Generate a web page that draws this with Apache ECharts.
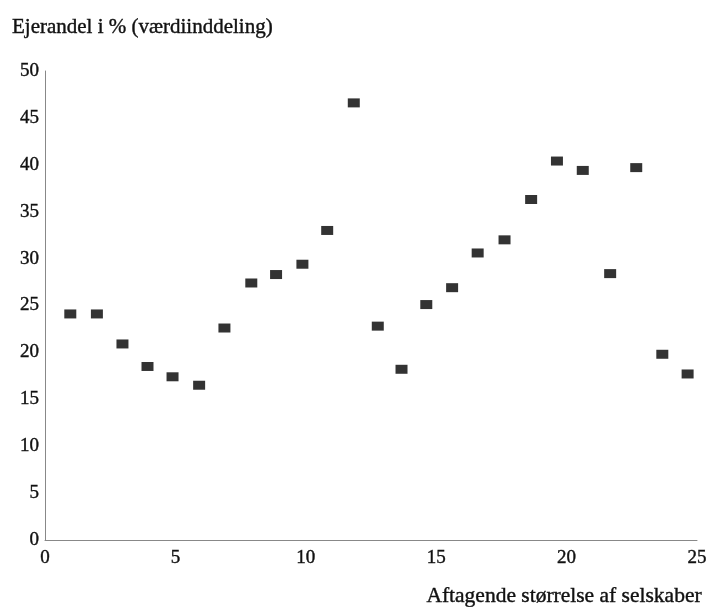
<!DOCTYPE html>
<html>
<head>
<meta charset="utf-8">
<script src="https://cdn.jsdelivr.net/npm/echarts@6/dist/echarts.min.js"></script>
<style>html,body{margin:0;padding:0;background:#fff}#c{width:710px;height:607px}</style>
</head>
<body>
<div id="c"></div>
<script>
// Data
const xValues = [0.97, 1.99, 2.97, 3.93, 4.89, 5.91, 6.88, 7.91, 8.86, 9.87, 10.82, 11.84, 12.76, 13.67, 14.62, 15.61, 16.59, 17.62, 18.64, 19.63, 20.62, 21.67, 22.67, 23.67, 24.64];
const yValues = [24.1, 24.1, 20.9, 18.5, 17.4, 16.5, 22.6, 27.4, 28.3, 29.4, 33.0, 46.6, 22.8, 18.2, 25.1, 26.9, 30.6, 32.0, 36.3, 40.4, 39.4, 28.4, 39.7, 19.8, 17.7];
const yTitle = 'Ejerandel i % (værdiinddeling)';
const xTitle = 'Aftagende størrelse af selskaber';

const font = "'Liberation Serif', 'DejaVu Serif', serif";
const txt = (size) => ({fontFamily: font, fontSize: size, fontWeight: 'normal', color: '#111',
  textBorderColor: '#111', textBorderWidth: 0.4});
const chart = echarts.init(document.getElementById('c'), null, {renderer: 'canvas'});
chart.setOption({
  animation: false,
  backgroundColor: '#fff',
  title: [
    {text: yTitle, left: 7, top: 12, textStyle: txt(21)},
    {text: xTitle, right: 3, top: 580, textStyle: txt(21.5)}
  ],
  grid: {left: 45, right: 13, top: 71, bottom: 67, containLabel: false},
  xAxis: {
    type: 'value', min: 0, max: 25, interval: 5,
    axisLine: {show: true, onZero: false, lineStyle: {color: '#888', width: 1}},
    axisTick: {show: false},
    splitLine: {show: false},
    axisLabel: Object.assign(txt(19), {margin: 9})
  },
  yAxis: {
    type: 'value', min: 0, max: 50, interval: 5,
    axisLine: {show: true, lineStyle: {color: '#888', width: 1}},
    axisTick: {show: false},
    splitLine: {show: false},
    axisLabel: Object.assign(txt(19), {margin: 6})
  },
  series: [{
    type: 'scatter',
    data: xValues.map((x, i) => [x, yValues[i]]),
    symbol: 'rect',
    symbolSize: [12, 9],
    itemStyle: {color: '#000'}
  }]
});
</script>
</body>
</html>
